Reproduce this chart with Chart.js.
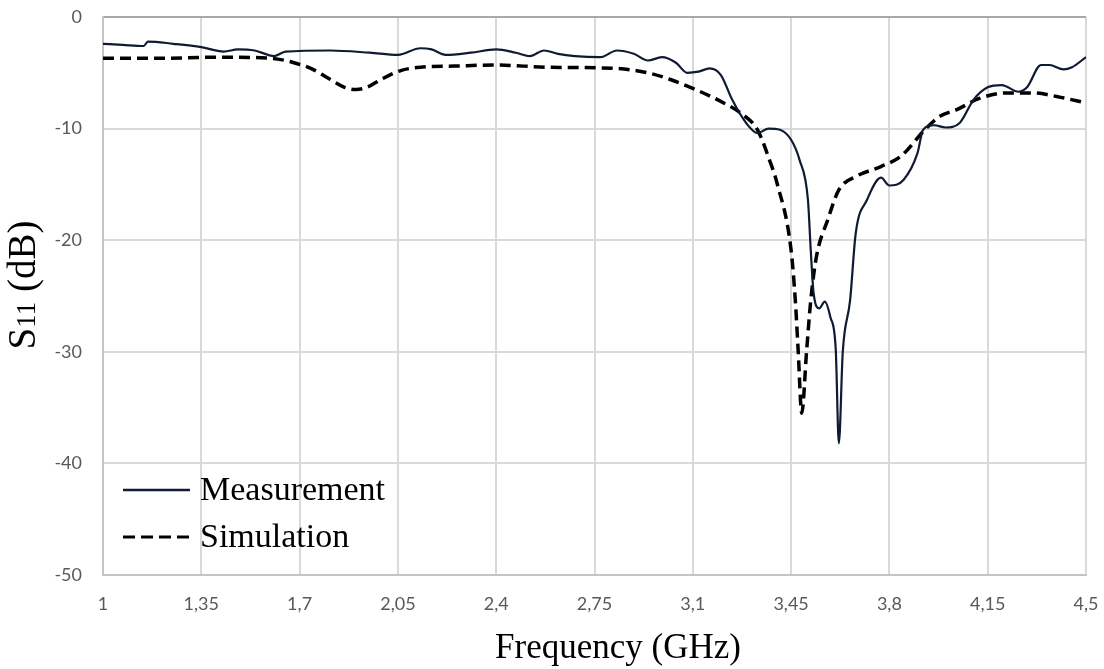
<!DOCTYPE html>
<html>
<head>
<meta charset="utf-8">
<script src="https://cdn.jsdelivr.net/npm/chart.js@4"></script>
<style>
  html, body { margin: 0; padding: 0; background: #fff; }
  #wrap { width: 1104px; height: 669px; }
</style>
</head>
<body>
<div id="wrap"><canvas id="s11Chart"></canvas></div>
<script>
// frequency (GHz) / S11 (dB)
const measFreq = [1.00, 1.07, 1.145, 1.16, 1.25, 1.35, 1.43, 1.48, 1.54, 1.61, 1.65, 1.81, 1.95, 2.05, 2.13, 2.17, 2.22, 2.31, 2.40, 2.47, 2.52, 2.57, 2.62, 2.68, 2.77, 2.83, 2.89, 2.94, 2.99, 3.04, 3.08, 3.12, 3.16, 3.20, 3.24, 3.29, 3.33, 3.37, 3.41, 3.45, 3.48, 3.51, 3.52, 3.53, 3.55, 3.57, 3.59, 3.609, 3.620, 3.634, 3.66, 3.68, 3.72, 3.77, 3.80, 3.85, 3.90, 3.92, 3.96, 4.00, 4.05, 4.10, 4.15, 4.20, 4.26, 4.29, 4.34, 4.37, 4.42, 4.45, 4.50];
const measS11 = [-2.4, -2.5, -2.6, -2.2, -2.4, -2.7, -3.1, -2.9, -3.0, -3.5, -3.1, -3.0, -3.2, -3.4, -2.8, -2.9, -3.4, -3.2, -2.9, -3.2, -3.5, -3.0, -3.3, -3.5, -3.6, -3.0, -3.3, -3.9, -3.6, -4.1, -5.0, -4.9, -4.6, -5.2, -7.4, -9.5, -10.4, -10.0, -10.1, -11.0, -12.8, -16.4, -20.9, -24.7, -26.1, -25.5, -26.9, -29.8, -38.2, -30.0, -25.4, -19.4, -16.4, -14.4, -15.1, -14.6, -12.2, -10.1, -9.7, -9.9, -9.5, -7.4, -6.3, -6.1, -6.7, -6.3, -4.3, -4.3, -4.7, -4.5, -3.6];

const simFreq = [1.00, 1.20, 1.40, 1.60, 1.65, 1.68, 1.74, 1.81, 1.86, 1.90, 1.94, 1.99, 2.06, 2.13, 2.25, 2.40, 2.58, 2.82, 2.94, 3.02, 3.11, 3.21, 3.27, 3.33, 3.37, 3.40, 3.45, 3.465, 3.475, 3.488, 3.505, 3.52, 3.54, 3.58, 3.62, 3.68, 3.77, 3.84, 3.93, 3.98, 4.04, 4.12, 4.22, 4.31, 4.41, 4.50];
const simS11 = [-3.7, -3.7, -3.6, -3.7, -3.9, -4.1, -4.6, -5.6, -6.3, -6.5, -6.3, -5.6, -4.8, -4.5, -4.4, -4.3, -4.5, -4.6, -5.0, -5.6, -6.5, -7.7, -8.6, -10.1, -12.6, -14.9, -20.9, -25.4, -29.8, -35.5, -30.0, -25.4, -21.5, -18.2, -15.5, -14.3, -13.4, -12.5, -10.0, -8.9, -8.3, -7.3, -6.8, -6.8, -7.2, -7.7];

const xTicks = [1, 1.35, 1.7, 2.05, 2.4, 2.75, 3.1, 3.45, 3.8, 4.15, 4.5];
const yTicks = [0, -10, -20, -30, -40, -50];

const seriesNames = ['Measurement', 'Simulation'];
const xTitle = 'Frequency (GHz)';

const toPoints = (xs, ys) => xs.map((x, i) => ({ x: x, y: ys[i] }));
const commaNum = v => String(Math.round(v * 100) / 100).replace('.', ',');

// axis titles (S11 needs a small "11") and the legend inside the plot
const decorPlugin = {
    id: 'decor',
    afterDraw(chart) {
        const ctx = chart.ctx;
        const area = chart.chartArea;
        ctx.save();
        ctx.fillStyle = '#000';
        ctx.textBaseline = 'alphabetic';

        // x title
        ctx.font = '35px "Liberation Serif", serif';
        ctx.textAlign = 'center';
        ctx.fillText(xTitle, 618, 658);

        // y title, rotated
        ctx.save();
        ctx.translate(35, 285);
        ctx.rotate(-Math.PI / 2);
        const big = '39px "Liberation Serif", serif';
        const small = '27px "Liberation Serif", serif';
        ctx.font = big; const wS = ctx.measureText('S').width;
        ctx.font = small; const w11 = ctx.measureText('11').width;
        ctx.font = big; const wRest = ctx.measureText(' (dB)').width;
        let x0 = -(wS + w11 + wRest) / 2;
        ctx.textAlign = 'left';
        ctx.font = big; ctx.fillText('S', x0, 0); x0 += wS;
        ctx.font = small; ctx.fillText('11', x0, 0); x0 += w11;
        ctx.font = big; ctx.fillText(' (dB)', x0, 0);
        ctx.restore();

        // legend
        const rows = [490, 537];
        chart.data.datasets.forEach((ds, i) => {
            const y = rows[i];
            ctx.save();
            ctx.strokeStyle = ds.borderColor;
            ctx.lineWidth = i === 0 ? 2.5 : 3;
            ctx.setLineDash(i === 0 ? [] : [12, 6]);
            ctx.beginPath();
            ctx.moveTo(area.left + 20, y);
            ctx.lineTo(area.left + 87, y);
            ctx.stroke();
            ctx.restore();
            ctx.font = '34px "Liberation Serif", serif';
            ctx.textAlign = 'left';
            ctx.fillStyle = '#000';
            ctx.fillText(ds.label, area.left + 97, y + 10);
        });
        ctx.restore();
    }
};

const ctx = document.getElementById('s11Chart').getContext('2d');
new Chart(ctx, {
    type: 'line',
    data: {
        datasets: [{
            label: seriesNames[0],
            data: toPoints(measFreq, measS11),
            borderColor: '#0f1a33',
            borderWidth: 2.2,
            pointRadius: 0,
            cubicInterpolationMode: 'monotone',
            fill: false
        }, {
            label: seriesNames[1],
            data: toPoints(simFreq, simS11),
            borderColor: '#000000',
            borderWidth: 3.5,
            borderDash: [11, 6],
            pointRadius: 0,
            cubicInterpolationMode: 'monotone',
            fill: false
        }]
    },
    options: {
        responsive: true,
        maintainAspectRatio: false,
        animation: false,
        layout: { padding: { top: 17, right: 18, left: 0, bottom: 0 } },
        plugins: {
            legend: { display: false },
            tooltip: { enabled: false }
        },
        scales: {
            x: {
                type: 'linear',
                min: 1,
                max: 4.5,
                afterBuildTicks: axis => { axis.ticks = xTicks.map(v => ({ value: v })); },
                afterFit: scale => {
                    scale.height = 94;
                    scale.paddingLeft = 0;
                    scale.paddingRight = 0;
                },
                ticks: {
                    color: '#595959',
                    font: { family: 'Lato', size: 18 },
                    padding: 18,
                    maxRotation: 0,
                    autoSkip: false,
                    callback: v => commaNum(v)
                },
                grid: { color: '#d9d9d9', lineWidth: 2, drawTicks: false },
                border: { color: '#c4c4c4', width: 2 }
            },
            y: {
                min: -50,
                max: 0,
                afterBuildTicks: axis => { axis.ticks = yTicks.map(v => ({ value: v })); },
                afterFit: scale => {
                    scale.width = 103;
                    scale.paddingTop = 0;
                    scale.paddingBottom = 0;
                },
                ticks: {
                    color: '#595959',
                    font: { family: 'Lato', size: 18 },
                    padding: 21,
                    callback: v => String(v)
                },
                grid: {
                    color: c => (c.tick && c.tick.value === 0) ? '#a8a8a8' : '#d9d9d9',
                    lineWidth: 2,
                    drawTicks: false
                },
                border: { color: '#c4c4c4', width: 2 }
            }
        }
    },
    plugins: [decorPlugin]
});
</script>
</body>
</html>
